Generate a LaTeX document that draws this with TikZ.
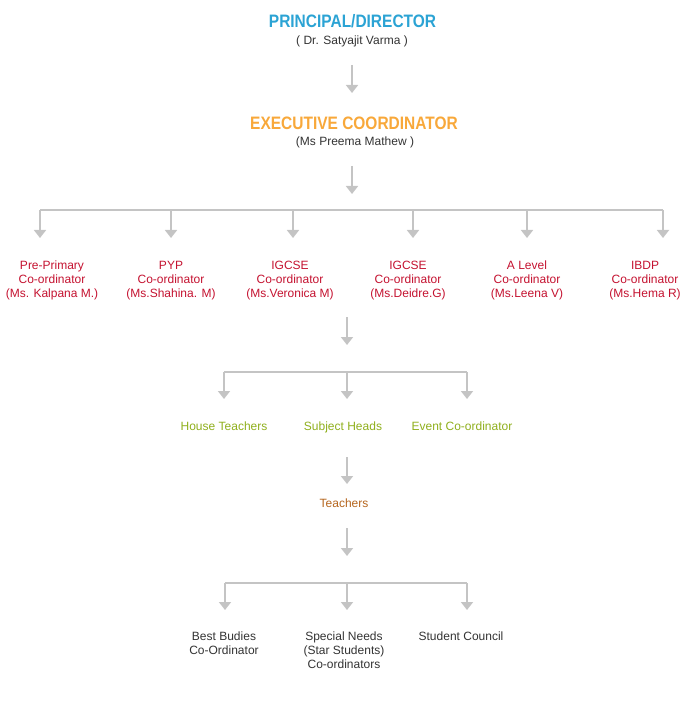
\documentclass[tikz,border=0pt]{standalone}
\usepackage{fontspec}
\setmainfont{Liberation Sans}
\newfontfamily\headfont[FakeStretch=0.86]{Liberation Sans}
\usetikzlibrary{arrows.meta}
\definecolor{cblue}{HTML}{2BA3D4}
\definecolor{corange}{HTML}{F8A83A}
\definecolor{cred}{HTML}{C41230}
\definecolor{cgreen}{HTML}{8FAF1C}
\definecolor{cbrown}{HTML}{B5651D}
\definecolor{ctext}{HTML}{333333}
\definecolor{cgray}{HTML}{C4C4C4}
\begin{document}
\begin{tikzpicture}[x=1pt,y=-1pt,
  arr/.style={draw=cgray,line width=1.8pt,-{Triangle[width=12pt,length=8pt]}},
  bus/.style={draw=cgray,line width=1.5pt},
  head/.style={font=\headfont\bfseries\fontsize{18}{20}\selectfont,inner sep=0,anchor=base},
  sub/.style={font=\fontsize{12}{14}\selectfont,text=ctext,inner sep=0,align=center},
  coord/.style={sub,text=cred,anchor=north},
  staff/.style={sub,text=cgreen,anchor=base},
]
\useasboundingbox (0,0) rectangle (695,708);
% top
\node[head,text=cblue] (pd) at (352.5,27.5) {PRINCIPAL/DIRECTOR};
\node[sub,anchor=base] (pdn) at (352,44.5) {( Dr. Satyajit Varma )};
\coordinate (a1s) at (352,65); \coordinate (a1e) at (352,93);
\draw[arr] (a1s) -- (a1e);
\node[head,text=corange] (ec) at (354,129.5) {EXECUTIVE COORDINATOR};
\node[sub,anchor=base] (ecn) at (355,145.5) {(Ms Preema Mathew )};
\coordinate (a2s) at (352,166); \coordinate (a2e) at (352,194);
\draw[arr] (a2s) -- (a2e);
% bus 1
\coordinate (b1) at (40,210); \coordinate (b2) at (171,210); \coordinate (b3) at (293,210);
\coordinate (b4) at (413,210); \coordinate (b5) at (527,210); \coordinate (b6) at (663,210);
\coordinate (t1) at (40,238); \coordinate (t2) at (171,238); \coordinate (t3) at (293,238);
\coordinate (t4) at (413,238); \coordinate (t5) at (527,238); \coordinate (t6) at (663,238);
\draw[bus] (b1) -- (b6);
\foreach \i in {1,...,6} \draw[arr] (b\i) -- (t\i);
\node[coord] (c1) at (52,259.2) {\strut Pre-Primary\\Co-ordinator\\(Ms. Kalpana M.)};
\node[coord] (c2) at (171,259.2) {\strut PYP\\Co-ordinator\\(Ms.Shahina. M)};
\node[coord] (c3) at (290,259.2) {\strut IGCSE\\Co-ordinator\\(Ms.Veronica M)};
\node[coord] (c4) at (408,259.2) {\strut IGCSE\\Co-ordinator\\(Ms.Deidre.G)};
\node[coord] (c5) at (527,259.2) {\strut A Level\\Co-ordinator\\(Ms.Leena V)};
\node[coord] (c6) at (645,259.2) {\strut IBDP\\Co-ordinator\\(Ms.Hema R)};
% arrow 3
\coordinate (a3s) at (347,317); \coordinate (a3e) at (347,345);
\draw[arr] (a3s) -- (a3e);
\coordinate (d1) at (224,372); \coordinate (d2) at (347,372); \coordinate (d3) at (467,372);
\coordinate (e1) at (224,399); \coordinate (e2) at (347,399); \coordinate (e3) at (467,399);
\draw[bus] (d1) -- (d3);
\foreach \i in {1,2,3} \draw[arr] (d\i) -- (e\i);
\node[staff] (ht) at (224,430) {House Teachers};
\node[staff] (sh) at (343,430) {Subject Heads};
\node[staff] (ev) at (462,430) {Event Co-ordinator};
% arrow 4
\coordinate (a4s) at (347,457); \coordinate (a4e) at (347,484);
\draw[arr] (a4s) -- (a4e);
\node[sub,text=cbrown,anchor=base] (tc) at (344,507) {Teachers};
\coordinate (a5s) at (347,528); \coordinate (a5e) at (347,556);
\draw[arr] (a5s) -- (a5e);
% bus 3
\coordinate (f1) at (225,583); \coordinate (f2) at (347,583); \coordinate (f3) at (467,583);
\coordinate (g1) at (225,610); \coordinate (g2) at (347,610); \coordinate (g3) at (467,610);
\draw[bus] (f1) -- (f3);
\foreach \i in {1,2,3} \draw[arr] (f\i) -- (g\i);
\node[sub,anchor=north] (bb) at (224,630.5) {\strut Best Budies\\Co-Ordinator};
\node[sub,anchor=north] (sn) at (344,630.5) {\strut Special Needs\\(Star Students)\\Co-ordinators};
\node[sub,anchor=north] (scl) at (461,630.5) {\strut Student Council};
\end{tikzpicture}
\end{document}
